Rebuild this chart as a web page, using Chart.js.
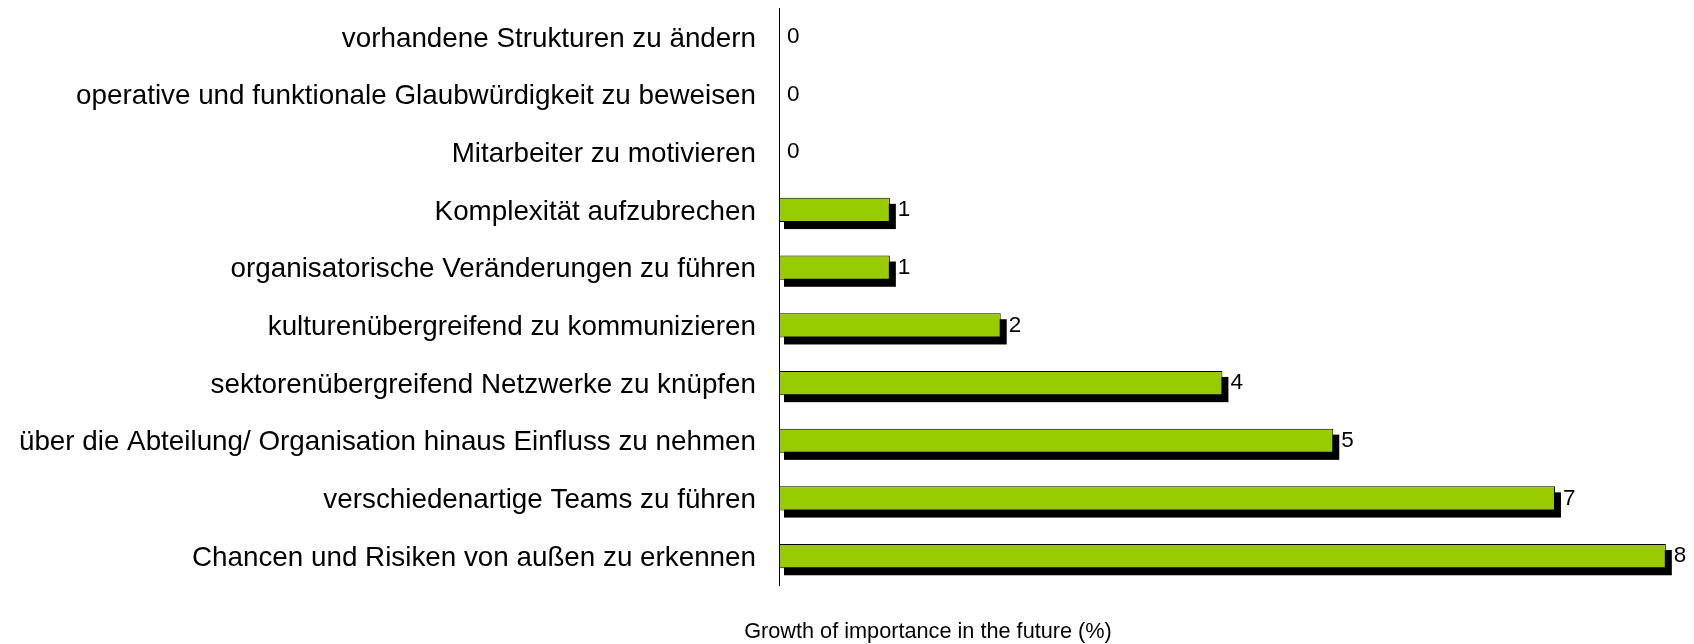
<!DOCTYPE html>
<html>
<head>
<meta charset="utf-8">
<script src="https://cdn.jsdelivr.net/npm/chart.js@4/dist/chart.umd.min.js"></script>
<style>
  html, body { margin: 0; padding: 0; background: #ffffff; }
  #wrap { position: relative; width: 1694px; height: 644px; }
</style>
</head>
<body>
<div id="wrap"><canvas id="c" width="1694" height="644"></canvas></div>
<script>
const categories = [
  "vorhandene Strukturen zu ändern",
  "operative und funktionale Glaubwürdigkeit zu beweisen",
  "Mitarbeiter zu motivieren",
  "Komplexität aufzubrechen",
  "organisatorische Veränderungen zu führen",
  "kulturenübergreifend zu kommunizieren",
  "sektorenübergreifend Netzwerke zu knüpfen",
  "über die Abteilung/ Organisation hinaus Einfluss zu nehmen",
  "verschiedenartige Teams zu führen",
  "Chancen und Risiken von außen zu erkennen"
];
const values = [0, 0, 0, 1, 1, 2, 4, 5, 7, 8];
const axisTitle = "Growth of importance in the future (%)";

const FONT = "'Liberation Sans', Arial, sans-serif";

// black drop shadow behind each bar, derived from the bar elements' geometry
const shadowPlugin = {
  id: 'barShadow',
  beforeDatasetsDraw(chart) {
    const ctx = chart.ctx;
    const meta = chart.getDatasetMeta(0);
    ctx.save();
    ctx.fillStyle = '#000000';
    meta.data.forEach((bar) => {
      const p = bar.getProps(['x', 'y', 'base', 'height'], true);
      const w = p.x - p.base;
      if (w <= 0) return;
      ctx.fillRect(p.base + 5, p.y - p.height / 2 + 6, w + 1, p.height + 1);
    });
    ctx.restore();
  }
};

const valueLabelPlugin = {
  id: 'valueLabels',
  afterDatasetsDraw(chart) {
    const ctx = chart.ctx;
    const meta = chart.getDatasetMeta(0);
    ctx.save();
    ctx.font = "22.5px " + FONT;
    ctx.fillStyle = '#000000';
    ctx.textAlign = 'left';
    ctx.textBaseline = 'middle';
    meta.data.forEach((bar, i) => {
      ctx.fillText(String(values[i]), bar.x + 8, bar.y);
    });
    ctx.restore();
  }
};

const axisTitlePlugin = {
  id: 'axisTitleText',
  afterDraw(chart) {
    const ctx = chart.ctx;
    ctx.save();
    ctx.font = "21.7px " + FONT;
    ctx.fillStyle = '#000000';
    ctx.textAlign = 'center';
    ctx.textBaseline = 'middle';
    ctx.fillText(axisTitle, 928, 632);
    ctx.restore();
  }
};

new Chart(document.getElementById('c'), {
  type: 'bar',
  data: {
    labels: categories,
    datasets: [{
      data: values,
      backgroundColor: '#99CC00',
      borderColor: '#000000',
      borderWidth: 1,
      borderSkipped: false,
      barPercentage: 0.42,
      categoryPercentage: 1.0
    }]
  },
  options: {
    indexAxis: 'y',
    responsive: false,
    animation: false,
    devicePixelRatio: 1,
    layout: { padding: { left: 0, right: 6, top: 8, bottom: 59 } },
    plugins: {
      legend: { display: false },
      tooltip: { enabled: false },
      title: { display: false }
    },
    scales: {
      x: {
        display: false,
        min: 0,
        max: 8.2
      },
      y: {
        grid: { display: false, drawTicks: false },
        border: { display: true, color: '#000000', width: 1 },
        ticks: {
          color: '#000000',
          padding: 23,
          labelOffset: 2,
          font: { family: FONT, size: 27.8 }
        },
        afterFit(scale) {
          scale.width = 779;
          scale.paddingTop = 0;
          scale.paddingBottom = 0;
        }
      }
    }
  },
  plugins: [shadowPlugin, valueLabelPlugin, axisTitlePlugin]
});
</script>
</body>
</html>
